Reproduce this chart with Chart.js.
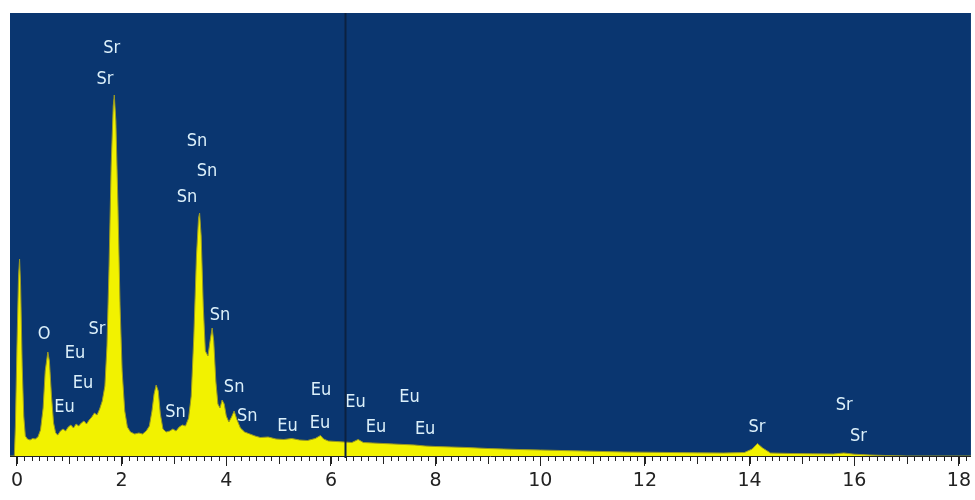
<!DOCTYPE html>
<html>
<head>
<meta charset="utf-8">
<script src="https://cdn.jsdelivr.net/npm/chart.js@4/dist/chart.umd.min.js"></script>
<style>
  html, body { margin: 0; padding: 0; background: #ffffff; }
  #wrap { width: 975px; height: 500px; position: relative; }
</style>
</head>
<body>
<div id="wrap"><canvas id="spectrum"></canvas></div>
<script>
// EDS spectrum: energy (keV) against counts
const energyKeV = [
  -0.13, -0.05, -0.03, 0.00, 0.03, 0.05, 0.07, 0.10, 0.13, 0.16, 0.20, 0.25, 0.30, 0.35, 0.40,
  0.45, 0.50, 0.54, 0.59, 0.62, 0.66, 0.70, 0.74, 0.78, 0.83, 0.88, 0.93, 0.98, 1.03, 1.08,
  1.13, 1.18, 1.23, 1.28, 1.33, 1.38, 1.43, 1.48, 1.53, 1.58, 1.63, 1.68, 1.72, 1.76, 1.80,
  1.84, 1.86, 1.89, 1.93, 1.97, 2.01, 2.06, 2.11, 2.17, 2.25, 2.33, 2.40, 2.47, 2.53, 2.58,
  2.62, 2.66, 2.70, 2.74, 2.79, 2.85, 2.92, 2.98, 3.04, 3.10, 3.16, 3.22, 3.28, 3.33, 3.38,
  3.43, 3.47, 3.49, 3.52, 3.56, 3.60, 3.65, 3.69, 3.73, 3.76, 3.80, 3.84, 3.88, 3.92, 3.96,
  4.00, 4.05, 4.10, 4.15, 4.20, 4.27, 4.35, 4.45, 4.55, 4.65, 4.80, 4.95, 5.10, 5.25, 5.40,
  5.55, 5.70, 5.80, 5.86, 5.95, 6.10, 6.25, 6.40, 6.52, 6.62, 6.80, 7.00, 7.20, 7.40, 7.60,
  7.80, 8.00, 8.30, 8.60, 9.00, 9.30, 9.60, 10.00, 10.40, 10.80, 11.20, 11.60, 12.00, 12.50, 13.00,
  13.50, 13.90, 14.05, 14.15, 14.25, 14.40, 14.80, 15.20, 15.60, 15.80, 16.00, 16.30, 16.60, 17.00, 18.30
];
const counts = [
  0, 0, 300, 1100, 1800, 1970, 1700, 900, 400, 200, 170, 160, 175, 170, 190,
  260, 480, 850, 1040, 950, 600, 330, 230, 210, 250, 270, 250, 290, 310, 280,
  320, 300, 330, 350, 320, 360, 390, 430, 410, 470, 550, 700, 1100, 1900, 2900,
  3500, 3610, 3350, 2500, 1500, 850, 450, 290, 240, 220, 230, 220, 250, 300, 450,
  620, 710, 650, 420, 270, 240, 250, 270, 250, 290, 310, 300, 380, 600, 1200,
  2000, 2380, 2430, 2200, 1500, 1050, 1000, 1150, 1280, 1150, 750, 520, 480, 560, 520,
  400, 340, 390, 450, 370, 280, 240, 220, 200, 185, 190, 170, 165, 175, 160,
  155, 175, 205, 170, 150, 145, 140, 135, 165, 135, 130, 125, 120, 115, 110,
  100, 95, 90, 85, 75, 70, 65, 60, 55, 50, 45, 40, 38, 35, 32,
  30, 35, 70, 125, 80, 30, 25, 22, 20, 30, 18, 10, 5, 0, 0
];

// Element line markers: name, energy (keV), label height (counts)
const peakNames  = ["Sr", "Sr", "Sn", "Sn", "Sn", "Sn", "Sn", "Sn", "Sn", "O", "Sr", "Eu", "Eu", "Eu",
                    "Eu", "Eu", "Eu", "Eu", "Eu", "Eu", "Eu", "Sr", "Sr", "Sr"];
const peakEnergy = [1.81, 1.68, 3.44, 3.63, 3.25, 3.88, 4.15, 4.40, 3.03, 0.52, 1.53, 1.11, 1.26, 0.91,
                    5.17, 5.81, 5.79, 6.47, 6.86, 7.50, 7.80, 14.14, 15.81, 16.08];
const peakLevel  = [4080, 3770, 3150, 2850, 2590, 1410, 690, 400, 440, 1220, 1270, 1030, 730, 490,
                    300, 660, 330, 540, 290, 590, 270, 290, 510, 200];

const axisMajorTicks = [0, 2, 4, 6, 8, 10, 12, 14, 16, 18];
const minorPerKeV = 7;
const cursorKeV = 6.26;

const xMin = -0.133, xMax = 18.23, yMax = 4430;

const plotFill = {
  id: 'plotFill',
  beforeDraw(chart) {
    const { ctx, chartArea: a } = chart;
    ctx.save();
    ctx.fillStyle = '#0a3670';
    ctx.fillRect(a.left, a.top, a.right - a.left, a.bottom - a.top);
    ctx.restore();
  }
};

const peakLabels = {
  id: 'peakLabels',
  afterDatasetsDraw(chart) {
    const { ctx, scales: { x, y }, chartArea: a } = chart;
    ctx.save();
    ctx.font = '18px "DejaVu Sans", Verdana, sans-serif';
    ctx.fillStyle = '#dcf0fa';
    ctx.textAlign = 'center';
    ctx.textBaseline = 'middle';
    peakNames.forEach((n, i) => {
      ctx.save();
      const px = x.getPixelForValue(peakEnergy[i]);
      const py = y.getPixelForValue(peakLevel[i]);
      ctx.translate(px, py);
      ctx.scale(0.9, 1);
      ctx.fillText(n, 0, 0);
      ctx.restore();
    });
    // energy cursor
    const cx = Math.round(x.getPixelForValue(cursorKeV)) + 0.5;
    ctx.strokeStyle = '#0b2140';
    ctx.lineWidth = 2;
    ctx.beginPath();
    ctx.moveTo(cx, a.top);
    ctx.lineTo(cx, a.bottom + 2);
    ctx.stroke();
    ctx.restore();
  }
};

const minorTicks = {
  id: 'minorTicks',
  afterDraw(chart) {
    const { ctx, scales: { x }, chartArea: a } = chart;
    ctx.save();
    ctx.strokeStyle = '#222';
    ctx.lineWidth = 1;
    ctx.beginPath();
    for (let i = 0; ; i++) {
      const v = i / minorPerKeV;
      if (v > xMax) break;
      const px = Math.round(x.getPixelForValue(v)) + 0.5;
      const len = (i % minorPerKeV === 0) ? 8 : 5;
      ctx.moveTo(px, a.bottom);
      ctx.lineTo(px, a.bottom + len);
    }
    ctx.stroke();
    ctx.restore();
  }
};

new Chart(document.getElementById('spectrum'), {
  type: 'line',
  data: {
    datasets: [{
      data: energyKeV.map((e, i) => ({ x: e, y: counts[i] })),
      fill: 'origin',
      backgroundColor: '#f2f200',
      borderColor: '#9a9a22',
      borderWidth: 1,
      pointRadius: 0,
      tension: 0
    }]
  },
  plugins: [plotFill, peakLabels, minorTicks],
  options: {
    responsive: true,
    maintainAspectRatio: false,
    animation: false,
    layout: { padding: { left: 10, top: 13, right: 0, bottom: 0 } },
    plugins: { legend: { display: false }, tooltip: { enabled: false } },
    scales: {
      x: {
        type: 'linear',
        min: xMin,
        max: xMax,
        afterBuildTicks(axis) { axis.ticks = axisMajorTicks.map(v => ({ value: v })); },
        afterFit(axis) { axis.height = 44; },
        border: { display: true, color: '#222', width: 1 },
        grid: { drawOnChartArea: false, drawTicks: true, tickLength: 10, tickColor: '#222' },
        ticks: {
          autoSkip: false,
          maxRotation: 0,
          padding: 4,
          color: '#222',
          font: { size: 19, family: '"DejaVu Sans", Verdana, sans-serif' }
        }
      },
      y: {
        display: false,
        min: 0,
        max: yMax
      }
    }
  }
});
</script>
</body>
</html>
